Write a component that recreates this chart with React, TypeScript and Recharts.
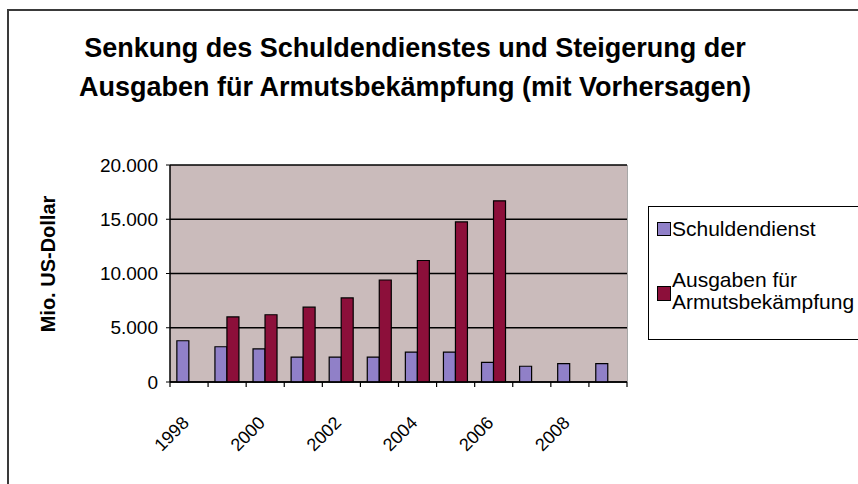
import React from "react";
import { BarChart, Bar, XAxis, YAxis, CartesianGrid } from "recharts";

// Schuldendienst vs. Ausgaben für Armutsbekämpfung, Mio. US-Dollar
const years = ["1998", "1999", "2000", "2001", "2002", "2003", "2004", "2005", "2006", "2007", "2008", "2009"];
const schuldendienst = [3800, 3250, 3050, 2300, 2300, 2300, 2750, 2750, 1800, 1450, 1700, 1700];
const armut = [null, 6000, 6200, 6900, 7750, 9400, 11200, 14750, 16700, null, null, null];
const yTicks = [0, 5000, 10000, 15000, 20000];

const titleLines = [
  "Senkung des Schuldendienstes und Steigerung der",
  "Ausgaben für Armutsbekämpfung (mit Vorhersagen)",
];

const BLUE = "#9080c8";
const RED = "#8c0f3a";
const PLOT_BG = "#cabbbb";
const FONT = "'Liberation Sans', Arial, sans-serif";

const data = years.map((y, i) => ({
  year: y,
  Schuldendienst: schuldendienst[i],
  Armut: armut[i],
}));

const fmt = (v: number) => String(v).replace(/\B(?=(\d{3})+(?!\d))/g, ".");

function YearTick(props: any) {
  const { x, y, payload, index, width } = props;
  const half = payload?.offset ?? width / years.length / 2;
  const lx = x + 1;
  const ly = y + 42;
  return (
    <g>
      <line x1={x - half} x2={x - half} y1={y} y2={y + 5} stroke="#000" strokeWidth={1.2} />
      {index === years.length - 1 && (
        <line x1={x + half} x2={x + half} y1={y} y2={y + 5} stroke="#000" strokeWidth={1.2} />
      )}
      {index % 2 === 0 && (
        <text
          x={lx}
          y={ly}
          transform={`rotate(-45 ${lx} ${ly})`}
          textAnchor="end"
          fontSize={18}
          fontFamily={FONT}
          fill="#000"
        >
          {payload.value}
        </text>
      )}
    </g>
  );
}

export default function App() {
  return (
    <div
      style={{
        position: "absolute",
        left: 0,
        top: 0,
        width: 858,
        height: 484,
        overflow: "hidden",
        background: "#fff",
        fontFamily: FONT,
        color: "#000",
      }}
    >
      {/* outer chart frame */}
      <div
        style={{
          position: "absolute",
          left: 7,
          top: 9,
          width: 900,
          height: 520,
          borderLeft: "2px solid #3a3a3a",
          borderTop: "2px solid #3a3a3a",
        }}
      />

      <div
        style={{
          position: "absolute",
          left: 0,
          top: 29,
          width: 830,
          textAlign: "center",
          fontSize: 27,
          fontWeight: "bold",
          lineHeight: "39px",
        }}
      >
        {titleLines.map((t) => (
          <div key={t}>{t}</div>
        ))}
      </div>

      <div
        style={{
          position: "absolute",
          left: 48,
          top: 264,
          transform: "translate(-50%, -50%) rotate(-90deg)",
          whiteSpace: "nowrap",
          fontSize: 20,
          fontWeight: "bold",
          lineHeight: 1,
        }}
      >
        Mio. US-Dollar
      </div>

      <div style={{ position: "absolute", left: 0, top: 0 }}>
        <BarChart
          width={858}
          height={484}
          data={data}
          margin={{ top: 165, right: 231, bottom: 42, left: 60 }}
          barCategoryGap="18%"
          barGap={0}
        >
          <CartesianGrid
            horizontal={false}
            vertical
            stroke="#8a8a8a"
            strokeWidth={1.5}
            verticalCoordinatesGenerator={({ offset }: any) => [offset.left + offset.width]}
          />
          <CartesianGrid vertical={false} stroke="#000" strokeWidth={1.3} fill={PLOT_BG} fillOpacity={1} />
          <XAxis
            dataKey="year"
            interval={0}
            height={60}
            tickLine={false}
            tickSize={0}
            tickMargin={0}
            axisLine={{ stroke: "#000", strokeWidth: 1.5 }}
            tick={<YearTick />}
          />
          <YAxis
            width={110}
            domain={[0, 20000]}
            ticks={yTicks}
            tickFormatter={fmt}
            axisLine={{ stroke: "#000", strokeWidth: 1.5 }}
            tickLine={{ stroke: "#000" }}
            tickSize={4}
            tickMargin={8}
            tick={{ fontSize: 19, fill: "#000", fontFamily: FONT }}
          />
          <Bar dataKey="Schuldendienst" fill={BLUE} stroke="#000" strokeWidth={1.2} isAnimationActive={false} />
          <Bar dataKey="Armut" fill={RED} stroke="#000" strokeWidth={1.2} isAnimationActive={false} />
        </BarChart>
      </div>

      {/* legend */}
      <div
        style={{
          position: "absolute",
          left: 648,
          top: 206,
          width: 260,
          height: 132,
          border: "1.5px solid #000",
          background: "#fff",
        }}
      />
      <div
        style={{
          position: "absolute",
          left: 657,
          top: 222,
          width: 12,
          height: 12,
          background: BLUE,
          border: "1px solid #000",
        }}
      />
      <div style={{ position: "absolute", left: 672, top: 218, fontSize: 21, lineHeight: 1, whiteSpace: "nowrap" }}>
        Schuldendienst
      </div>
      <div
        style={{
          position: "absolute",
          left: 657,
          top: 286,
          width: 12,
          height: 13,
          background: RED,
          border: "1px solid #000",
        }}
      />
      <div style={{ position: "absolute", left: 672, top: 269, fontSize: 21, lineHeight: "22px", whiteSpace: "nowrap" }}>
        <div>Ausgaben für</div>
        <div>Armutsbekämpfung</div>
      </div>
    </div>
  );
}
